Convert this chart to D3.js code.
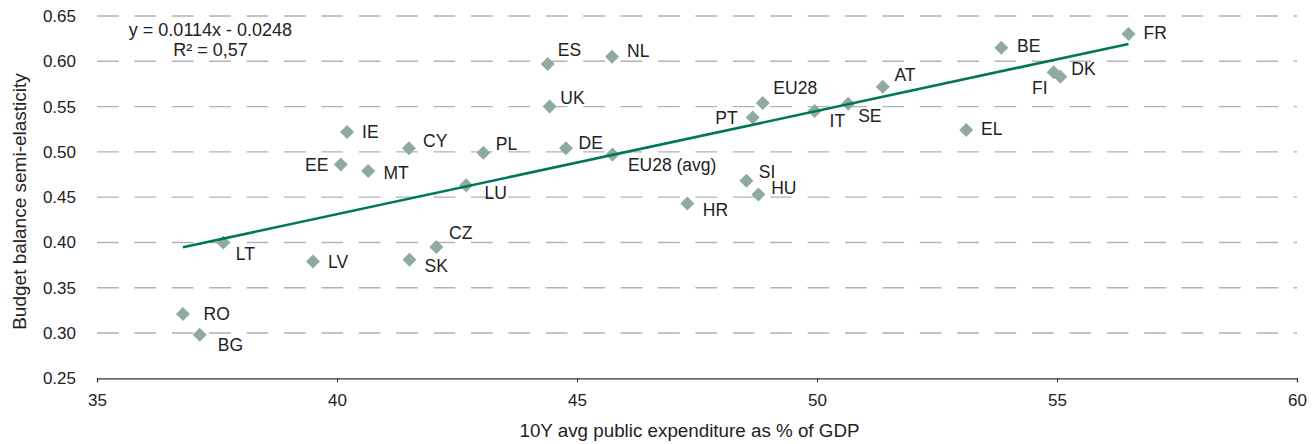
<!DOCTYPE html>
<html>
<head>
<meta charset="utf-8">
<script src="https://cdn.jsdelivr.net/npm/d3@7"></script>
<style>
  body { margin: 0; background: #fff; }
  svg { display: block; font-family: "Liberation Sans", Arial, sans-serif; }
</style>
</head>
<body>
<svg id="chart"></svg>
<script>
const countries = ['RO', 'BG', 'LT', 'LV', 'SK', 'CZ', 'IE', 'EE', 'MT', 'CY', 'LU', 'PL', 'ES', 'UK', 'DE',
  'EU28 (avg)', 'NL', 'HR', 'SI', 'PT', 'HU', 'EU28', 'IT', 'SE', 'AT', 'EL', 'BE', 'FI', 'DK', 'FR']
const expenditure = [36.79, 37.14, 37.63, 39.50, 41.51, 42.07, 40.21, 40.08, 40.65, 41.50, 42.69, 43.05, 44.39, 44.43, 44.77,
  45.74, 45.73, 47.30, 48.53, 48.66, 48.78, 48.87, 49.95, 50.65, 51.37, 53.11, 53.84, 54.93, 55.07, 56.49]
const semiElasticity = [0.321, 0.298, 0.400, 0.379, 0.381, 0.395, 0.522, 0.486, 0.479, 0.504, 0.463, 0.499, 0.597, 0.550, 0.504,
  0.497, 0.605, 0.443, 0.468, 0.538, 0.453, 0.554, 0.545, 0.553, 0.572, 0.524, 0.615, 0.588, 0.583, 0.630]
const trendSlope = 0.0114
const trendIntercept = -0.0248
const xTicks = [35, 40, 45, 50, 55, 60]
const yTicks = [0.25, 0.30, 0.35, 0.40, 0.45, 0.50, 0.55, 0.60, 0.65]

// label placement relative to each marker: [dx, dy, anchor]
const labelPlacement = {
  'RO': [20.6, 0], 'BG': [18, 10], 'LT': [12.6, 11.6], 'LV': [15, 0], 'SK': [15, 6.7], 'CZ': [12.7, -14],
  'IE': [15, 0], 'EE': [-12.4, 0, 'end'], 'MT': [15.3, 2], 'CY': [14, -7.3], 'LU': [18.3, 7.4], 'PL': [12.4, -9],
  'ES': [10, -14], 'UK': [10.7, -8.4], 'DE': [12.6, -5.7], 'EU28 (avg)': [15.4, 10.3], 'NL': [15, -6],
  'HR': [15.4, 6.3], 'SI': [12.3, -9], 'PT': [-15, 0, 'end'], 'HU': [12.7, -6.6], 'EU28': [10.6, -15],
  'IT': [15, 10], 'SE': [10, 12], 'AT': [11.7, -11.3], 'EL': [14.7, -1], 'BE': [15.7, -1.6],
  'FI': [-6, 15.4, 'end'], 'DK': [11, -8.3], 'FR': [15, -1.4]
}

const [sizeX, sizeY] = [1312, 444]
const svg = d3.select('#chart').attr('width', sizeX).attr('height', sizeY)

const x = d3.scaleLinear().domain([35, 60]).range([97, 1297])
const y = d3.scaleLinear().domain([0.25, 0.65]).range([378.3, 16])

const textColor = '#222'
const markerColor = '#8fab9f'
const lineColor = '#00765a'

// gridlines
svg.append('g')
  .selectAll('line')
  .data(yTicks.slice(1))
  .enter()
  .append('line')
  .attr('x1', x(35))
  .attr('x2', x(60))
  .attr('y1', d => y(d))
  .attr('y2', d => y(d))
  .attr('stroke', '#b3b3b3')
  .attr('stroke-width', 1.4)
  .attr('stroke-dasharray', '21.7,15.7')

// x axis
const xAxis = svg.append('g')
  .attr('transform', `translate(0, ${y(0.25)})`)
  .call(d3.axisBottom(x).tickValues(xTicks).tickSize(4).tickPadding(12).tickFormat(d3.format('d')))
xAxis.select('.domain').attr('stroke', '#333').attr('stroke-width', 1.3)
xAxis.selectAll('.tick line').attr('stroke', '#333')
xAxis.selectAll('.tick text').attr('fill', textColor).style('font-size', '17px')

// y axis
const yAxis = svg.append('g')
  .attr('transform', `translate(${x(35)}, 0)`)
  .call(d3.axisLeft(y).tickValues(yTicks).tickSize(0).tickPadding(21).tickFormat(d3.format('.2f')))
yAxis.select('.domain').remove()
yAxis.selectAll('.tick text').attr('fill', textColor).style('font-size', '17px')

// axis titles
svg.append('text')
  .attr('x', 689.5)
  .attr('y', 436.7)
  .attr('fill', textColor)
  .style('font-size', '18.8px')
  .style('text-anchor', 'middle')
  .text('10Y avg public expenditure as % of GDP')

svg.append('text')
  .attr('transform', 'translate(26, 201.5) rotate(-90)')
  .attr('fill', textColor)
  .style('font-size', '19px')
  .style('text-anchor', 'middle')
  .text('Budget balance semi-elasticity')

const points = countries.map((name, i) => ({ name, x: expenditure[i], y: semiElasticity[i] }))

// markers
svg.append('g')
  .selectAll('path')
  .data(points)
  .enter()
  .append('path')
  .attr('d', d3.symbol().type(d3.symbolSquare).size(98))
  .attr('transform', d => `translate(${x(d.x)}, ${y(d.y)}) rotate(45)`)
  .attr('fill', markerColor)

// trend line
const xMin = d3.min(expenditure)
const xMax = d3.max(expenditure)
svg.append('line')
  .attr('x1', x(xMin))
  .attr('y1', y(trendSlope * xMin + trendIntercept))
  .attr('x2', x(xMax))
  .attr('y2', y(trendSlope * xMax + trendIntercept))
  .attr('stroke', lineColor)
  .attr('stroke-width', 2.6)

// point labels
svg.append('g')
  .selectAll('text')
  .data(points)
  .enter()
  .append('text')
  .attr('x', d => x(d.x) + labelPlacement[d.name][0])
  .attr('y', d => y(d.y) + labelPlacement[d.name][1])
  .attr('dy', '0.35em')
  .attr('fill', textColor)
  .style('font-size', '17.5px')
  .style('text-anchor', d => labelPlacement[d.name][2] || 'start')
  .text(d => d.name)

// regression equation
const eq = svg.append('text')
  .attr('fill', textColor)
  .style('font-size', '18px')
  .style('text-anchor', 'middle')
eq.append('tspan').attr('x', 210.5).attr('y', 36).text('y = 0.0114x - 0.0248')
eq.append('tspan').attr('x', 210.5).attr('y', 56).text('R² = 0,57')
</script>
</body>
</html>
